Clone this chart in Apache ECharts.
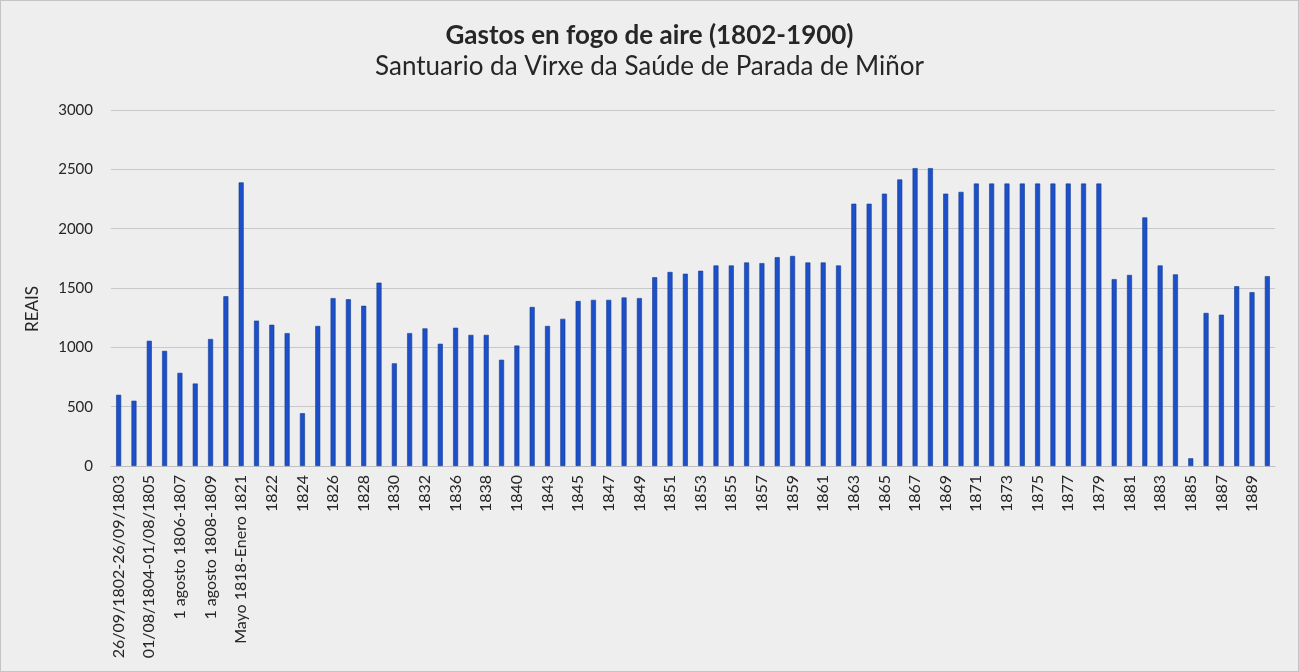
<!DOCTYPE html>
<html><head><meta charset="utf-8">
<script src="https://cdn.jsdelivr.net/npm/echarts@6/dist/echarts.min.js"></script>
<style>
html,body{margin:0;padding:0;background:#eeeeee;}
#c{width:1299px;height:672px;box-sizing:border-box;border:1px solid #c4c4c4;}
</style></head><body>
<div id="c"></div>
<script>
const categories = [
 "26/09/1802-26/09/1803","26/09/1803-01/08/1804","01/08/1804-01/08/1805","1 agosto 1805-1806",
 "1 agosto 1806-1807","1 agosto 1807-1808","1 agosto 1808-1809","1809-Mayo 1818",
 "Mayo 1818-Enero 1821","1821","1822","1823","1824","1825","1826","1827","1828","1829",
 "1830","1831","1832","1834","1836","1837","1838","1839","1840","1842",
 "1843","1844","1845","1846","1847","1848","1849","1850","1851","1852","1853","1854",
 "1855","1856","1857","1858","1859","1860","1861","1862","1863","1864","1865","1866",
 "1867","1868","1869","1870","1871","1872","1873","1874","1875","1876","1877","1878",
 "1879","1880","1881","1882","1883","1884","1885","1886","1887","1888","1889","1890"
];
const gastos = [
 600,550,1055,970,785,695,1070,1430,2390,1225,1190,1120,445,1180,1415,1405,1350,1545,
 865,1120,1160,1030,1165,1105,1105,895,1015,1340,1180,1240,1390,1400,1400,1420,1415,
 1590,1635,1620,1645,1690,1690,1715,1710,1760,1770,1715,1715,1690,2210,2210,2295,2415,
 2510,2510,2295,2310,2380,2380,2380,2380,2380,2380,2380,2380,2380,1575,1610,2095,1690,
 1615,65,1290,1275,1515,1465,1600
];
const yTicks = {min:0, max:3000, interval:500};
const titleText = "Gastos en fogo de aire (1802-1900)";
const subtitleText = "Santuario da Virxe da Saúde de Parada de Miñor";
const yName = "REAIS";

const chart = echarts.init(document.getElementById('c'));
chart.setOption({
  backgroundColor:'#eeeeee',
  animation:false,
  title:{
    text:titleText, subtext:subtitleText, left:'center', top:17,
    itemGap:5,
    textStyle:{fontFamily:'Lato',fontWeight:'bold',fontSize:26,color:'#262626'},
    subtextStyle:{fontFamily:'Lato',fontSize:26,color:'#262626'}
  },
  graphic:[{
    type:'text', x:32, y:308, rotation:Math.PI/2,
    style:{text:yName, font:'17px Lato', fill:'#262626', align:'center', verticalAlign:'middle'}
  }],
  grid:{left:110,right:23,top:109,bottom:205,containLabel:false},
  xAxis:{
    type:'category', data:categories,
    axisLine:{lineStyle:{color:'#bfbfbf',width:1}},
    axisTick:{show:false},
    axisLabel:{rotate:90,interval:1,fontFamily:'Lato',fontSize:16,color:'#262626',margin:9}
  },
  yAxis:{
    type:'value', min:yTicks.min, max:yTicks.max, interval:yTicks.interval,
    axisLine:{show:false}, axisTick:{show:false},
    axisLabel:{fontFamily:'Lato',fontSize:15,color:'#262626',margin:18,formatter:v=>String(v)},
    splitLine:{lineStyle:{color:'#c8c8c8',width:1}}
  },
  series:[{
    type:'bar', data:gastos, barWidth:5,
    itemStyle:{color:'#1d50c8',borderColor:'#123a94',borderWidth:0.6}
  }]
});
</script>
</body></html>
